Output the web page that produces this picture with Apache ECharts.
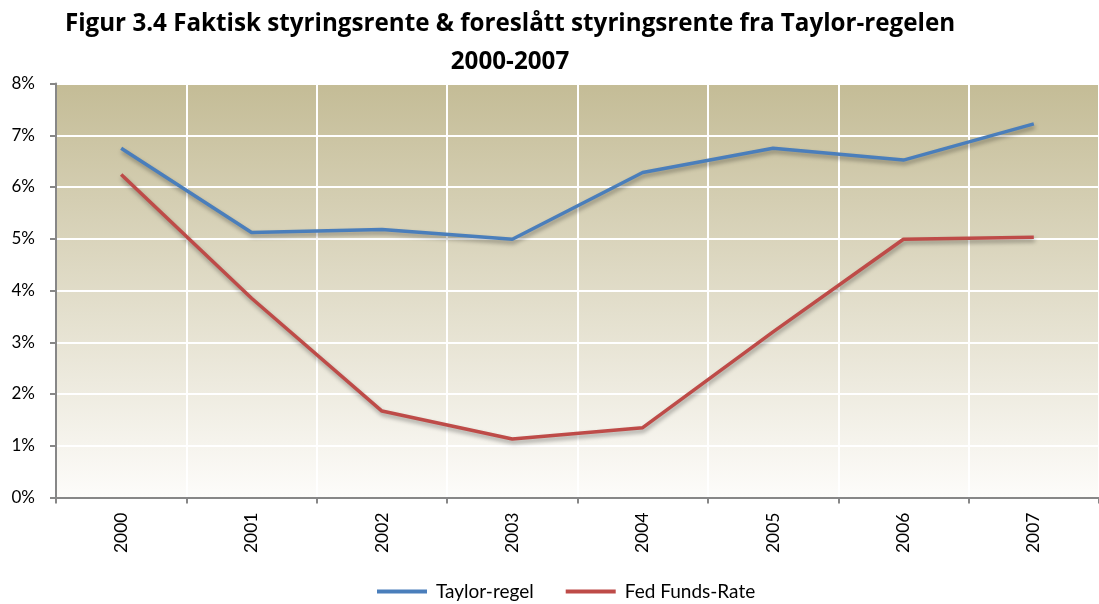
<!DOCTYPE html>
<html>
<head>
<meta charset="utf-8">
<script src="https://cdn.jsdelivr.net/npm/echarts@6/dist/echarts.min.js"></script>
<style>
  html, body { margin: 0; padding: 0; background: #ffffff; }
  #chart { width: 1099px; height: 604px; }
</style>
</head>
<body>
<div id="chart"></div>
<script>
// Years on the category axis
const years = ['2000', '2001', '2002', '2003', '2004', '2005', '2006', '2007'];
// Policy rate suggested by the Taylor rule (%)
const taylorRule = [6.75, 5.12, 5.18, 4.99, 6.28, 6.75, 6.52, 7.22];
// Actual Fed Funds Rate (%)
const fedFunds = [6.24, 3.85, 1.67, 1.13, 1.35, 3.2, 4.99, 5.03];
// Y axis ticks
const yTicks = [0, 1, 2, 3, 4, 5, 6, 7, 8];

const font = 'Lato, "Open Sans", sans-serif';
const titleFont = '"Open Sans", Lato, sans-serif';
const lineShadow = {
  shadowColor: 'rgba(0,0,0,0.35)',
  shadowBlur: 4,
  shadowOffsetX: 1,
  shadowOffsetY: 3
};

const chart = echarts.init(document.getElementById('chart'), null, { renderer: 'canvas' });
chart.setOption({
  animation: false,
  backgroundColor: '#ffffff',
  title: {
    text: 'Figur 3.4 Faktisk styringsrente & foreslått styringsrente fra Taylor-regelen\n2000-2007',
    left: 505,
    top: 0,
    textAlign: 'center',
    textStyle: {
      fontFamily: titleFont,
      fontWeight: 'bold',
      fontSize: 24.2,
      lineHeight: 38,
      color: '#000000'
    }
  },
  legend: {
    bottom: -2,
    left: 372,
    itemWidth: 50,
    itemHeight: 4,
    itemGap: 32,
    icon: 'rect',
    textStyle: { fontFamily: font, fontSize: 19, color: '#000000', padding: [0, 0, 0, 4] },
    data: ['Taylor-regel', 'Fed Funds-Rate']
  },
  grid: {
    left: 56,
    top: 83.5,
    right: -5,
    bottom: 106.5,
    show: true,
    borderWidth: 0,
    backgroundColor: new echarts.graphic.LinearGradient(0, 0, 0, 1, [
      { offset: 0, color: '#c4bc96' },
      { offset: 1, color: '#fdfcfa' }
    ])
  },
  xAxis: {
    type: 'category',
    data: years,
    boundaryGap: true,
    axisLine: { lineStyle: { color: '#878787', width: 2 } },
    axisTick: { show: true, length: 6, lineStyle: { color: '#878787', width: 2 } },
    axisLabel: {
      rotate: 90,
      margin: 15,
      fontFamily: font,
      fontSize: 17.5,
      color: '#000000'
    },
    splitLine: { show: true, lineStyle: { color: '#ffffff', width: 2 } }
  },
  yAxis: {
    type: 'value',
    min: yTicks[0],
    max: yTicks[yTicks.length - 1],
    interval: 1,
    axisLine: { show: true, lineStyle: { color: '#878787', width: 2 } },
    axisTick: { show: true, length: 6, lineStyle: { color: '#878787', width: 2 } },
    axisLabel: {
      formatter: '{value}%',
      margin: 21,
      fontFamily: font,
      fontSize: 17,
      color: '#000000'
    },
    splitLine: { show: true, lineStyle: { color: '#ffffff', width: 2 } }
  },
  series: [
    {
      name: 'Taylor-regel',
      type: 'line',
      data: taylorRule,
      symbol: 'none',
      color: '#4a7ebb',
      lineStyle: Object.assign({ color: '#4a7ebb', width: 3.5 }, lineShadow)
    },
    {
      name: 'Fed Funds-Rate',
      type: 'line',
      data: fedFunds,
      symbol: 'none',
      color: '#be4b48',
      lineStyle: Object.assign({ color: '#be4b48', width: 3.5 }, lineShadow)
    }
  ]
});
</script>
</body>
</html>
